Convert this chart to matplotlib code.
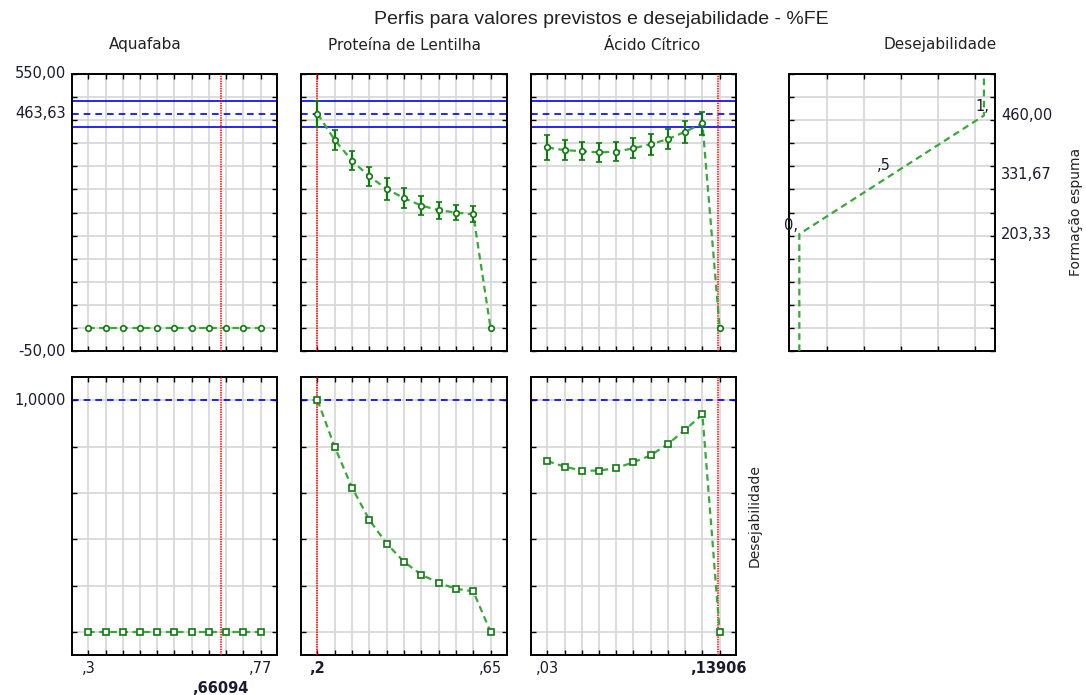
import matplotlib

matplotlib.use("Agg")
import matplotlib.pyplot as plt
import matplotlib.transforms as mtransforms

plt.rcParams["font.family"] = ["Liberation Sans", "DejaVu Sans"]
SMALL = ["DejaVu Sans"]  # the small labels in the original are wide, Verdana-like

TITLE = "Perfis para valores previstos e desejabilidade - %FE"
factor_names = ["Aquafaba", "Proteína de Lentilha", "Ácido Cítrico"]

# factor levels (11 points per profile)
aquafaba_x = [0.300, 0.347, 0.394, 0.441, 0.488, 0.535, 0.582, 0.629, 0.676, 0.723, 0.770]
proteina_x = [0.200, 0.245, 0.290, 0.335, 0.380, 0.425, 0.470, 0.515, 0.560, 0.605, 0.650]
acido_x = [0.030, 0.041, 0.052, 0.063, 0.074, 0.085, 0.096, 0.107, 0.118, 0.129, 0.140]
current_values = [0.66094, 0.2, 0.13906]

# predicted %FE and half-width of the confidence bars
aquafaba_fe = [0, 0, 0, 0, 0, 0, 0, 0, 0, 0, 0]
aquafaba_err = [0, 0, 0, 0, 0, 0, 0, 0, 0, 0, 0]
proteina_fe = [463.63, 407, 362, 328, 301, 281, 265, 255, 250, 246, 0]
proteina_err = [28.8, 22, 21, 20, 23, 22, 20, 18, 17, 17, 0]
acido_fe = [391, 385, 383, 380, 382, 389, 398, 409, 425, 443, 0]
acido_err = [27, 22, 20, 21, 21, 22, 23, 22, 24, 25, 0]

# desirability of each profile point
aquafaba_d = [0, 0, 0, 0, 0, 0, 0, 0, 0, 0, 0]
proteina_d = [1.0, 0.798, 0.622, 0.483, 0.381, 0.302, 0.247, 0.211, 0.186, 0.175, 0.0]
acido_d = [0.737, 0.713, 0.696, 0.696, 0.707, 0.732, 0.762, 0.811, 0.872, 0.939, 0.0]

fe_optimum = 463.63
fe_ci = [434.8, 492.5]
fe_ylim = [-50, 550]
fe_ylabels = ["550,00", "463,63", "-50,00"]

# desirability function for %FE
desir_x = [0, 0, 0.5, 1, 1]
desir_y = [-50, 203.33, 331.67, 460.0, 550]
desir_points = [(0, 203.33, "0,"), (0.5, 331.67, ",5"), (1, 460.0, "1,")]
desir_ylabels = [(460.0, "460,00"), (331.67, "331,67"), (203.33, "203,33")]

xlabels = [
    [(0.3, ",3", False, 0), (0.77, ",77", False, 0), (0.66094, ",66094", True, 1)],
    [(0.2, ",2", True, 0), (0.65, ",65", False, 0)],
    [(0.03, ",03", False, 0), (0.13906, ",13906", True, 0)],
]

LINE_GREEN = "#39a839"
MARK_GREEN = "#0f7a0f"
GRID = "#d6d6d6"
TXT = "#1b1b2f"

fig = plt.figure(figsize=(10.86, 6.95), dpi=100)
W, H = 1086, 695


def add_ax(x0, y0, x1, y1):
    return fig.add_axes([x0 / W, 1 - y1 / H, (x1 - x0) / W, (y1 - y0) / H])


def style(ax, xticks, yticks):
    ax.set_xticks(xticks)
    ax.set_yticks(yticks)
    ax.set_xticklabels([])
    ax.set_yticklabels([])
    ax.tick_params(direction="in", length=3.5, width=1, top=True, right=True,
                   colors="black")
    ax.grid(True, color=GRID, lw=1.2)
    ax.set_axisbelow(True)
    for s in ax.spines.values():
        s.set_linewidth(1.4)


cols = [(72, 277), (301, 507), (531, 736)]
xs_all = [aquafaba_x, proteina_x, acido_x]
fe_all = [(aquafaba_fe, aquafaba_err), (proteina_fe, proteina_err), (acido_fe, acido_err)]
d_all = [aquafaba_d, proteina_d, acido_d]
fe_grid = list(range(-50, 551, 50))
d_grid = [0, 0.2, 0.4, 0.6, 0.8, 1.0]

for i, (x0, x1) in enumerate(cols):
    xs = xs_all[i]
    step = xs[1] - xs[0]
    xlim = (xs[0] - 0.95 * step, xs[-1] + 0.95 * step)

    # top row: predicted %FE
    ax = add_ax(x0, 74, x1, 351)
    style(ax, xs, fe_grid)
    ax.set_xlim(*xlim)
    ax.set_ylim(*fe_ylim)
    for v in fe_ci:
        ax.axhline(v, color="#0000ff", lw=1.2, zorder=2)
    ax.axhline(fe_optimum, color="#0000ff", lw=1.2, ls=(0, (4, 3)), zorder=2)
    ax.axvline(current_values[i], color="red", lw=1.1, ls=(0, (1, 0.6)), zorder=3)
    y, e = fe_all[i]
    ax.plot(xs, y, color=LINE_GREEN, lw=1.6, ls=(0, (3, 2)), zorder=4)
    ax.errorbar(xs, y, yerr=e, fmt="o", ms=4, mfc="white", mec=MARK_GREEN, mew=1.2,
                ecolor=MARK_GREEN, elinewidth=1.6, capsize=2.5, capthick=1.2, zorder=5)
    if i == 0:
        tr = mtransforms.blended_transform_factory(ax.transAxes, ax.transData)
        for v, lab in zip([550, fe_optimum, -50], fe_ylabels):
            ax.text(-0.03, v, lab, transform=tr, ha="right", va="center",
                    fontsize=10.5, color=TXT, family=SMALL)
    fig.text(([145, 405, 652][i]) / W, 1 - 45 / H, factor_names[i], ha="center",
             va="center", fontsize=11, color="#222222", family=SMALL)

    # bottom row: desirability
    ax = add_ax(x0, 377, x1, 655)
    style(ax, xs, d_grid)
    ax.set_xlim(*xlim)
    ax.set_ylim(-0.1, 1.1)
    ax.axhline(1.0, color="#0000ff", lw=1.2, ls=(0, (4, 3)), zorder=2)
    ax.axvline(current_values[i], color="red", lw=1.1, ls=(0, (1, 0.6)), zorder=3)
    ax.plot(xs, d_all[i], color=LINE_GREEN, lw=1.6, ls=(0, (3, 2)), zorder=4)
    ax.plot(xs, d_all[i], "s", ms=4.5, mfc="white", mec=MARK_GREEN, mew=1.2, zorder=5)
    if i == 0:
        tr = mtransforms.blended_transform_factory(ax.transAxes, ax.transData)
        ax.text(-0.03, 1.0, "1,0000", transform=tr, ha="right", va="center",
                fontsize=10.5, color=TXT, family=SMALL)
    tr = mtransforms.blended_transform_factory(ax.transData, ax.transAxes)
    for xv, lab, bold, row in xlabels[i]:
        ax.text(xv, -0.047 - row * 0.072, lab, transform=tr, ha="center", va="center",
                fontsize=10.5, color=TXT, family=SMALL,
                fontweight="bold" if bold else "normal")
    if i == 2:
        fig.text(755 / W, 1 - 516 / H, "Desejabilidade", rotation=90, ha="center",
                 va="center", fontsize=10, color="#222222", family=SMALL)

# desirability function panel
ax = add_ax(789, 74, 995, 351)
style(ax, [0.15, 0.35, 0.55, 0.75, 0.95], fe_grid)
ax.set_xlim(-0.056, 1.06)
ax.set_ylim(*fe_ylim)
ax.plot(desir_x, desir_y, color=LINE_GREEN, lw=1.6, ls=(0, (3, 2)), zorder=4)
for xv, yv, lab in desir_points:
    ax.annotate(lab, (xv, yv), textcoords="offset points", xytext=(-1, 1),
                ha="center" if xv == 1 else "right", va="bottom", fontsize=10.5,
                color=TXT, family=SMALL)
tr = mtransforms.blended_transform_factory(ax.transAxes, ax.transData)
for v, lab in desir_ylabels:
    ax.text(1.03, v, lab, transform=tr, ha="left", va="center", fontsize=10.5,
            color=TXT, family=SMALL)
fig.text(940 / W, 1 - 45 / H, "Desejabilidade", ha="center", va="center",
         fontsize=11, color="#222222", family=SMALL)
fig.text(1076 / W, 1 - 212 / H, "Formação espuma", rotation=90, ha="center",
         va="center", fontsize=10, color="#222222", family=SMALL)

fig.text(601 / W, 1 - 20 / H, TITLE, ha="center", va="center", fontsize=14,
         color="#222222")

fig.savefig("out.png", dpi=100)
